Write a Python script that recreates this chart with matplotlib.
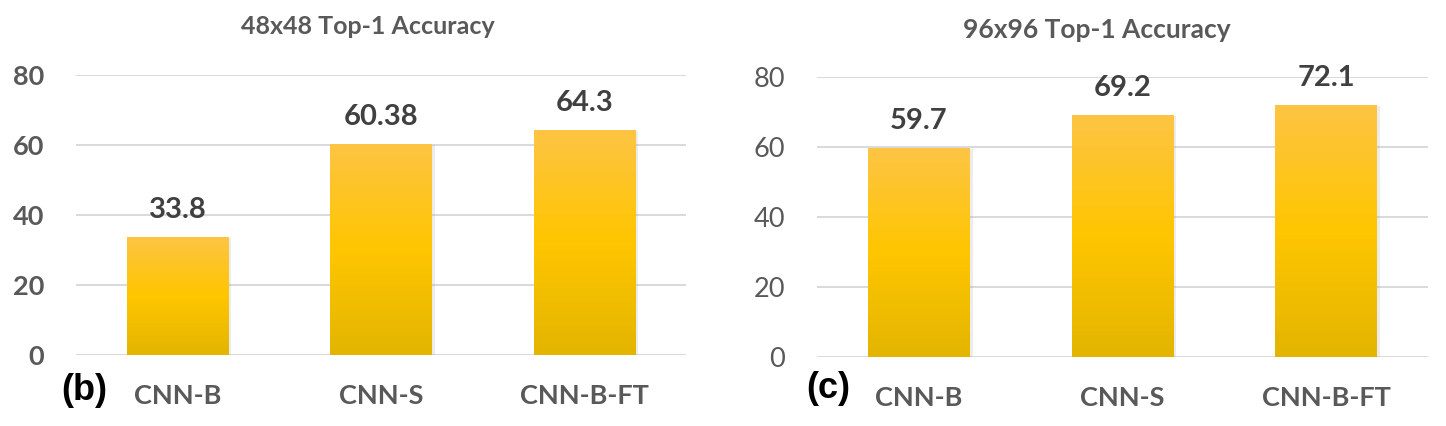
import numpy as np
import matplotlib
matplotlib.use("Agg")
import matplotlib.pyplot as plt
from matplotlib.colors import LinearSegmentedColormap
import matplotlib.patheffects as pe

categories = ["CNN-B", "CNN-S", "CNN-B-FT"]
acc_48 = [33.8, 60.38, 64.3]
acc_96 = [59.7, 69.2, 72.1]
labels_48 = ["33.8", "60.38", "64.3"]
labels_96 = ["59.7", "69.2", "72.1"]
titles = ["48x48 Top-1 Accuracy", "96x96 Top-1 Accuracy"]
panel_tags = ["(b)", "(c)"]
yticks = [0, 20, 40, 60, 80]

W, H = 1446, 426
fig = plt.figure(figsize=(W / 100, H / 100), dpi=100)

FONT = ["Lato", "DejaVu Sans"]
GRAY = "#595959"
DARK = "#404040"

cmap = LinearSegmentedColormap.from_list(
    "gold", [(0.0, "#E3B500"), (0.5, "#FFC600"), (1.0, "#FDC445")])
grad = np.linspace(0, 1, 256).reshape(-1, 1)


def px_axes(x0, x1, ytop, ybot):
    return [x0 / W, 1 - ybot / H, (x1 - x0) / W, (ybot - ytop) / H]


def draw_panel(rect, values, vlabels, title, title_xy, tag, tag_xy, bold_ticks, title_size):
    ax = fig.add_axes(rect)
    x = np.arange(len(categories))
    bars = ax.bar(x, values, width=0.5, color="#FFC600", zorder=2)
    for b in bars:
        b.set_path_effects([pe.SimplePatchShadow(offset=(2, -1), shadow_rgbFace="#999999", alpha=0.18),
                            pe.Normal()])
        im = ax.imshow(grad, cmap=cmap, aspect="auto", origin="lower",
                       extent=[b.get_x(), b.get_x() + b.get_width(), 0, b.get_height()],
                       zorder=3)
        im.set_clip_path(b)
    ax.set_xlim(-0.5, len(categories) - 0.5)
    ax.set_ylim(0, 80)
    ax.set_yticks(yticks)
    ax.set_xticks(x)
    ax.set_xticklabels(categories, family=FONT, fontsize=19.5, fontweight="bold", color=GRAY)
    ax.set_yticklabels([str(t) for t in yticks], family=FONT, fontsize=19.5,
                       fontweight="bold" if bold_ticks else "normal", color=GRAY)
    ax.tick_params(axis="both", length=0)
    ax.tick_params(axis="y", pad=23)
    ax.tick_params(axis="x", pad=21)
    for s in ax.spines.values():
        s.set_visible(False)
    ax.grid(axis="y", color="#D9D9D9", linewidth=1.4, zorder=0)
    ax.set_axisbelow(True)
    for b, lab in zip(bars, vlabels):
        ax.annotate(lab, (b.get_x() + b.get_width() / 2, b.get_height()),
                    xytext=(0, 10), textcoords="offset points", ha="center", va="bottom",
                    family=FONT, fontsize=21, fontweight="bold", color=DARK, zorder=5)
    fig.text(title_xy[0] / W, 1 - title_xy[1] / H, title, ha="center", va="center",
             family=FONT, fontsize=title_size, fontweight="bold", color=GRAY)
    fig.text(tag_xy[0] / W, 1 - tag_xy[1] / H, tag, ha="center", va="center",
             family=["Liberation Sans", "DejaVu Sans"], fontsize=26, fontweight="bold", color="black")
    return ax


draw_panel(px_axes(76, 686, 75, 355), acc_48, labels_48, titles[0], (368, 26),
           panel_tags[0], (84, 391), True, 18)
draw_panel(px_axes(817, 1428, 77, 357), acc_96, labels_96, titles[1], (1097, 30),
           panel_tags[1], (828, 389), False, 19)

fig.savefig("out.png", dpi=100)
